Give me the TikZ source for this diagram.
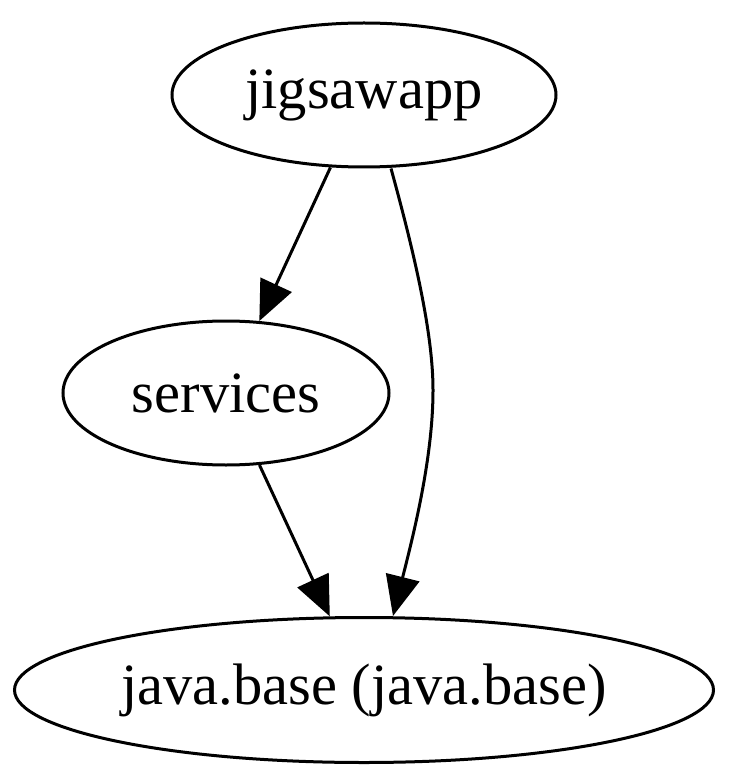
\documentclass[tikz,border=0pt]{standalone}
\usepackage{fontspec}
\setmainfont{Liberation Serif}
\usetikzlibrary{shapes.geometric,arrows.meta}
\begin{document}
\begin{tikzpicture}[x=1pt,y=-1pt,
  mod/.style={draw, ellipse, line width=3pt, inner sep=0pt, font=\fontsize{58.5}{70}\selectfont},
  dep/.style={line width=3pt, -{Triangle[length=40pt,width=34pt]}}]
\useasboundingbox (0,0) rectangle (729,783);
\node[mod, minimum width=384pt, minimum height=144pt] (jig) at (364,95) {jigsawapp};
\node[mod, minimum width=326pt, minimum height=144pt] (srv) at (226,393) {services};
\node[mod, minimum width=699pt, minimum height=145pt] (jb) at (364,690) {java.base (java.base)};
\coordinate (jigfoot) at (jig.south -| 391,0);
\coordinate (jbtop) at (jb.north -| 393,0);
\draw[dep] (jig) -- (srv);
\draw[dep] (srv) -- (jb);
\draw[dep] (jigfoot) .. controls (412,245) and (433,330) .. (433,390)
  .. controls (433,460) and (412,540) .. (jbtop);
\end{tikzpicture}
\end{document}
